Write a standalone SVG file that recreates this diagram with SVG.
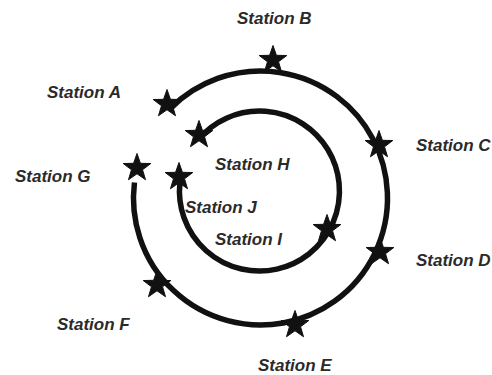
<svg xmlns="http://www.w3.org/2000/svg" xmlns:xlink="http://www.w3.org/1999/xlink" width="492" height="375" viewBox="0 0 492 375">
  <style>
    .track { fill: none; stroke: #111; stroke-width: 5.5; stroke-linecap: butt; }
    .star { fill: #111; stroke: #111; stroke-width: 1; stroke-linejoin: miter; }
    .lbl { font-family: "Liberation Sans", Arial, sans-serif; font-size: 17px; font-weight: bold; font-style: italic; fill: #2a2a2a; }
  </style>
  <defs>
    <path id="star" class="star" d="M0,-14.5 L3.41,-4.69 L13.79,-4.48 L5.52,1.79 L8.52,11.73 L0,5.8 L-8.52,11.73 L-5.52,1.79 L-13.79,-4.48 L-3.41,-4.69 Z"/>
  </defs>
  <rect width="492" height="375" fill="#fff"/>
  <g id="connectors">
    <path id="outer-line" class="track" d="M170.7,108.2 A127,127 0 1 1 134.45,182.5"/>
    <path id="inner-line" class="track" d="M198.2,139.6 A80,80 0 1 1 179.9,182.6"/>
  </g>
  <g id="station-a"><use xlink:href="#star" x="167" y="104"/><text class="lbl" x="47" y="98">Station A</text></g>
  <g id="station-b"><use xlink:href="#star" x="273" y="60"/><text class="lbl" x="237" y="24">Station B</text></g>
  <g id="station-c"><use xlink:href="#star" x="379" y="145"/><text class="lbl" x="416" y="151">Station C</text></g>
  <g id="station-d"><use xlink:href="#star" x="380" y="252"/><text class="lbl" x="416" y="266">Station D</text></g>
  <g id="station-e"><use xlink:href="#star" x="295" y="325"/><text class="lbl" x="258" y="371">Station E</text></g>
  <g id="station-f"><use xlink:href="#star" x="157" y="285"/><text class="lbl" x="57" y="330">Station F</text></g>
  <g id="station-g"><use xlink:href="#star" x="137" y="168"/><text class="lbl" x="15" y="182">Station G</text></g>
  <g id="station-h"><use xlink:href="#star" x="199" y="135"/><text class="lbl" x="215" y="170">Station H</text></g>
  <g id="station-j"><use xlink:href="#star" x="179" y="177"/><text class="lbl" x="185" y="213">Station J</text></g>
  <g id="station-i"><use xlink:href="#star" x="327" y="229"/><text class="lbl" x="215" y="245">Station I</text></g>
</svg>
